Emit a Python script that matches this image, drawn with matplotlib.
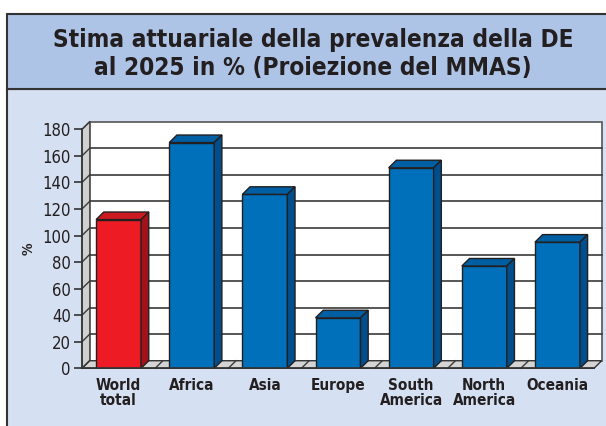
import matplotlib
matplotlib.use("Agg")
import matplotlib.pyplot as plt
from matplotlib.patches import Polygon, Rectangle

plt.rcParams['font.family'] = ['DejaVu Sans']
plt.rcParams['font.stretch'] = 'condensed'

categories = ["World\ntotal", "Africa", "Asia", "Europe", "South\nAmerica", "North\nAmerica", "Oceania"]
values = [112, 170, 131, 38, 151, 77, 95]
yticks = [0, 20, 40, 60, 80, 100, 120, 140, 160, 180]
title = "Stima attuariale della prevalenza della DE\nal 2025 in % (Proiezione del MMAS)"

W, H = 606, 426
fig = plt.figure(figsize=(W / 100, H / 100), dpi=100)
fig.patch.set_facecolor("white")

# frame: title band + body
fig.patches.append(Rectangle((6.5 / W, -0.01), 1, (H - 89) / H + 0.01, transform=fig.transFigure,
                             facecolor="#d5e0f2", edgecolor="#333333", lw=1.5, zorder=-2))
fig.patches.append(Rectangle((6.5 / W, (H - 89) / H), 1, 75 / H, transform=fig.transFigure,
                             facecolor="#adc4e6", edgecolor="#333333", lw=1.5, zorder=-2))
fig.text(313 / W, 1 - 54 / H, title, ha="center", va="center", fontsize=17.5,
         fontweight="bold", color="#231f20", linespacing=1.18)

ax = fig.add_axes((82 / W, (H - 368.3) / H, 512 / W, 239 / H))
ax.patch.set_visible(False)
ax.set_xlim(-0.5, len(values) - 0.5)
ax.set_ylim(0, 180)

DX, DY = 0.105, 5.7
x0, x1 = -0.5, len(values) - 0.5
edge = "#231f20"

# walls and floor
ax.add_patch(Rectangle((x0 + DX, DY), x1 - x0, 180, facecolor="white",
                       edgecolor="#555555", lw=1.2, clip_on=False, zorder=1))
ax.add_patch(Polygon([(x0, 0), (x0, 180), (x0 + DX, 180 + DY), (x0 + DX, DY)],
                     facecolor="#d0d0d0", edgecolor="#555555", lw=1, clip_on=False, zorder=1))
ax.add_patch(Polygon([(x0, 0), (x1, 0), (x1 + DX, DY), (x0 + DX, DY)],
                     facecolor="#d4d4d4", edgecolor="#333333", lw=1, clip_on=False, zorder=1))
for v in yticks[1:-1]:
    ax.plot([x0 + DX, x1 + DX], [v + DY, v + DY], color="#3a3a3a", lw=1.2, clip_on=False, zorder=2)
for v in yticks:
    ax.plot([x0, x0 + DX], [v, v + DY], color="#3a3a3a", lw=1, clip_on=False, zorder=2)
for i in range(len(values) - 1):
    ax.plot([i + 0.5, i + 0.5 + DX], [0, DY], color="#3a3a3a", lw=1, clip_on=False, zorder=2)

# 3D bars
bw = 0.615
for i, v in enumerate(values):
    if i == 0:
        front, top, side = "#ed1c24", "#cc1a21", "#a3121a"
    else:
        front, top, side = "#0070ba", "#005ea3", "#004f8c"
    ax.bar(i, v, width=bw, color=front, edgecolor=edge, lw=1, zorder=3)
    l, r = i - bw / 2, i + bw / 2
    ax.add_patch(Polygon([(l, v), (r, v), (r + DX, v + DY), (l + DX, v + DY)],
                         facecolor=top, edgecolor=edge, lw=1, zorder=3, clip_on=False))
    ax.add_patch(Polygon([(r, 0), (r, v), (r + DX, v + DY), (r + DX, DY)],
                         facecolor=side, edgecolor=edge, lw=1, zorder=3, clip_on=False))

for s in ["top", "right", "bottom"]:
    ax.spines[s].set_visible(False)
ax.spines["left"].set_color("#333333")
ax.spines["left"].set_linewidth(1.2)
ax.axhline(0, color="#333333", lw=1.2, zorder=4, clip_on=False)
ax.set_yticks(yticks)
ax.tick_params(axis="y", length=6, width=1.2, color="#333333", labelsize=12,
               labelcolor="#231f20", pad=2)
ax.set_xticks(range(len(values)))
ax.set_xticklabels(categories, fontweight="bold", fontsize=11, color="#231f20", linespacing=1.0)
ax.tick_params(axis="x", length=0, pad=7)
ax.set_ylabel("%", fontweight="bold", fontsize=10, color="#231f20")
ax.yaxis.set_label_coords(-0.09, 0.5)

fig.savefig("out.png", dpi=100)
